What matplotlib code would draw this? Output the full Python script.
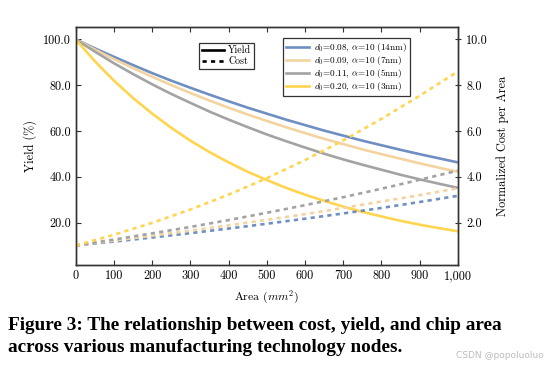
import matplotlib
matplotlib.use('Agg')
import matplotlib.pyplot as plt
from matplotlib.lines import Line2D

plt.rcParams['font.family'] = ['cmr10', 'DejaVu Serif']
plt.rcParams['mathtext.fontset'] = 'cm'
plt.rcParams['axes.formatter.use_mathtext'] = True

# chip area (mm^2)
area_yield = [0, 50, 100, 150, 200, 250, 300, 350, 400, 450, 500,
              550, 600, 650, 700, 750, 800, 850, 900, 950, 1000]
area_cost = [0, 100, 200, 300, 400, 500, 600, 700, 800, 900, 1000]

# yield (%) per node
yield_14nm = [100, 96.1, 92.4, 88.8, 85.3, 82.0, 78.9, 75.9, 73.0, 70.2, 67.6,
              65.0, 62.6, 60.2, 58.0, 55.8, 53.8, 51.8, 49.9, 48.1, 46.3]
yield_7nm = [100, 95.6, 91.4, 87.5, 83.7, 80.1, 76.6, 73.3, 70.2, 67.2, 64.4,
             61.7, 59.1, 56.6, 54.3, 52.0, 49.9, 47.9, 45.9, 44.0, 42.2]
yield_5nm = [100, 94.7, 89.6, 84.9, 80.4, 76.2, 72.3, 68.5, 65.0, 61.7, 58.5,
             55.6, 52.8, 50.1, 47.6, 45.3, 43.1, 40.9, 38.9, 37.0, 35.2]
yield_3nm = [100, 90.5, 82.0, 74.4, 67.6, 61.4, 55.8, 50.8, 46.3, 42.2, 38.6,
             35.2, 32.2, 29.5, 27.0, 24.7, 22.7, 20.8, 19.1, 17.6, 16.2]

# normalized cost per area per node
cost_14nm = [1.0, 1.17, 1.35, 1.54, 1.74, 1.95, 2.17, 2.40, 2.64, 2.90, 3.17]
cost_7nm = [1.0, 1.21, 1.43, 1.65, 1.88, 2.12, 2.37, 2.64, 2.92, 3.20, 3.50]
cost_5nm = [1.0, 1.26, 1.53, 1.81, 2.11, 2.43, 2.76, 3.11, 3.48, 3.87, 4.27]
cost_3nm = [1.0, 1.47, 1.99, 2.57, 3.22, 3.94, 4.73, 5.59, 6.53, 7.54, 8.60]

labels = [r'$d_0$=0.08, $\alpha$=10 (14nm)',
          r'$d_0$=0.09, $\alpha$=10 (7nm)',
          r'$d_0$=0.11, $\alpha$=10 (5nm)',
          r'$d_0$=0.20, $\alpha$=10 (3nm)']
colors = ['#6f8fc2', '#f3d4a0', '#a3a3a3', '#ffd54f']
yields = [yield_14nm, yield_7nm, yield_5nm, yield_3nm]
costs = [cost_14nm, cost_7nm, cost_5nm, cost_3nm]

fig = plt.figure(figsize=(5.45, 3.68), dpi=100)
ax = fig.add_axes([0.139, 0.280, 0.701, 0.647])
ax2 = ax.twinx()

for y, c in zip(yields, colors):
    ax.plot(area_yield, y, color=c, lw=1.9, solid_capstyle='butt')
for y, c in zip(costs, colors):
    ax2.plot(area_cost, y, color=c, lw=1.9, linestyle=(0, (1.6, 1.6)))

ax.set_xlim(0, 1000)
ax.set_ylim(1.5, 105.5)
ax2.set_ylim(0.15, 10.55)

ax.set_xticks(range(0, 1001, 100))
ax.set_xticklabels([f'{v:,}' for v in range(0, 1001, 100)])
ax.set_yticks([20, 40, 60, 80, 100])
ax.set_yticklabels([f'{v:.1f}' for v in [20, 40, 60, 80, 100]])
ax2.set_yticks([2, 4, 6, 8, 10])
ax2.set_yticklabels([f'{v:.1f}' for v in [2, 4, 6, 8, 10]])

ax.tick_params(axis='both', direction='in', labelsize=8.8, length=3.5,
               top=True, width=0.8, colors='#333333', labelcolor='black')
ax.tick_params(axis='y', right=False)
ax2.tick_params(axis='y', direction='inout', labelsize=8.8, length=5,
                width=0.8, colors='#333333', labelcolor='black')
for a in (ax, ax2):
    for s in a.spines.values():
        s.set_color('#333333')
        s.set_linewidth(1.0)

ax.set_xlabel(r'Area ($mm^2$)', fontsize=8.5, labelpad=5)
ax.set_ylabel('Yield (%)', fontsize=8.8, labelpad=4)
ax2.set_ylabel('Normalized Cost per Area', fontsize=8.8, labelpad=6)

# legend: line styles
style_handles = [Line2D([], [], color='black', lw=1.9),
                 Line2D([], [], color='black', lw=1.9, linestyle=(0, (1.6, 1.6)))]
leg1 = ax2.legend(style_handles, ['Yield', 'Cost'], loc='upper left',
                  bbox_to_anchor=(0.31, 0.955), fontsize=7.2, handlelength=2.2,
                  handletextpad=0.4, borderpad=0.3, labelspacing=0.15,
                  fancybox=False, edgecolor='#333333', framealpha=1)
leg1.get_frame().set_linewidth(0.9)
ax2.add_artist(leg1)

# legend: nodes
node_handles = [Line2D([], [], color=c, lw=1.9) for c in colors]
leg2 = ax2.legend(node_handles, labels, loc='upper left',
                  bbox_to_anchor=(0.53, 0.972), fontsize=6.6, handlelength=2.6,
                  handletextpad=0.5, borderpad=0.3, labelspacing=0.0,
                  fancybox=False, edgecolor='#333333', framealpha=1)
leg2.get_frame().set_linewidth(0.9)

# caption, one text per line
fig.text(0.014, 0.103, 'Figure 3: The relationship between cost, yield, and chip area',
         fontsize=13.9, fontweight='bold', family='Liberation Serif',
         va='baseline', ha='left')
fig.text(0.014, 0.043, 'across various manufacturing technology nodes.',
         fontsize=13.9, fontweight='bold', family='Liberation Serif',
         va='baseline', ha='left')
fig.text(0.997, 0.022, 'CSDN @popoluoluo', fontsize=6.5, color='#bbbbbb',
         family='DejaVu Sans', ha='right', va='bottom')

fig.savefig('out.png', dpi=100)
